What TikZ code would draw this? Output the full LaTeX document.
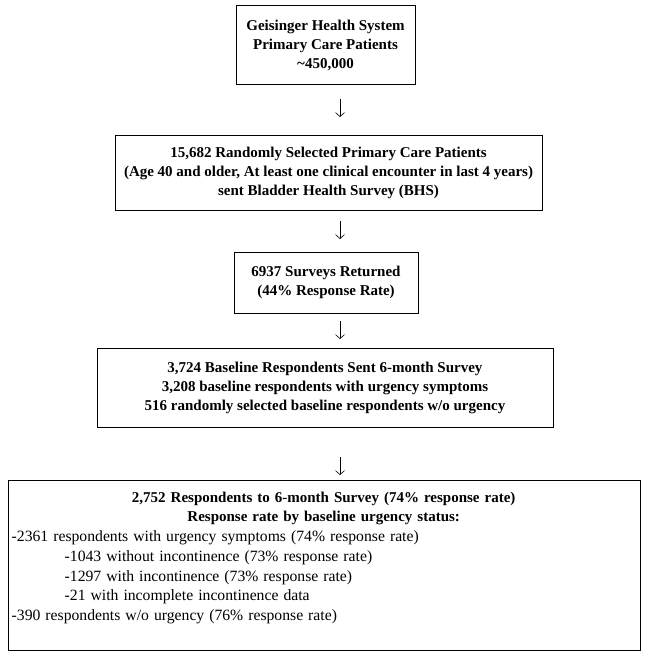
\documentclass[tikz,border=0pt]{standalone}
\usepackage{fontspec}
\setmainfont{Liberation Serif}
\usepackage{tikz}
\usetikzlibrary{arrows.meta,positioning,calc}
\tikzstyle{stage}=[draw,line width=1pt,align=center,font=\fontsize{15}{19}\selectfont\bfseries,inner sep=0pt]
\tikzstyle{flow}=[line width=0.6pt,-{Straight Barb[length=4pt,width=9pt]}]

\begin{document}
\begin{tikzpicture}[x=1pt,y=-1pt]
    \useasboundingbox (0,0) rectangle (650,655);
    \node [stage,minimum width=179pt,minimum height=79pt] (pop) at (325.5,45.5)
      {Geisinger Health System\\Primary Care Patients\\\textasciitilde450,000};
    \node [stage,minimum width=427pt,minimum height=74pt] (sent) at (328.5,173)
      {15,682 Randomly Selected Primary Care Patients\\(Age 40 and older, At least one clinical encounter in last 4 years)\\sent Bladder Health Survey (BHS)};
    \node [stage,minimum width=184pt,minimum height=61pt] (returned) at (326,282.5)
      {6937 Surveys Returned\\(44\% Response Rate)};
    \node [stage,minimum width=456pt,minimum height=79pt] (baseline) at (325,387.5)
      {3,724 Baseline Respondents Sent 6-month Survey\\3,208 baseline respondents with urgency symptoms\\516 randomly selected baseline respondents w/o urgency};
    \node [draw,line width=1pt,minimum width=632pt,minimum height=170pt,inner sep=0pt] (followup) at (324,565) {};
    \node [anchor=north west,inner sep=0pt,text width=624pt,font=\fontsize{15}{19.6}\selectfont] (details) at ($(followup.north west)+(4,12)$)
      {\centering\bfseries 2,752 Respondents to 6-month Survey (74\% response rate)\\
       Response rate by baseline urgency status:\par
       \fontsize{15.7}{19.8}\selectfont
       \raggedright\mdseries -2361 respondents with urgency symptoms (74\% response rate)\\
       \hspace*{53pt}-1043 without incontinence (73\% response rate)\\
       \hspace*{53pt}-1297 with incontinence (73\% response rate)\\
       \hspace*{53pt}-21 with incomplete incontinence data\\
       -390 respondents w/o urgency (76\% response rate)\par};
    % short arrows between the stages
    \coordinate (a1) at (340,99);   \coordinate (b1) at (340,117);
    \coordinate (a2) at (340,221);  \coordinate (b2) at (340,239);
    \coordinate (a3) at (340,321);  \coordinate (b3) at (340,339);
    \coordinate (a4) at (340,457);  \coordinate (b4) at (340,475);
    \draw [flow] (a1) -- (b1);
    \draw [flow] (a2) -- (b2);
    \draw [flow] (a3) -- (b3);
    \draw [flow] (a4) -- (b4);
  \end{tikzpicture}
\end{document}
